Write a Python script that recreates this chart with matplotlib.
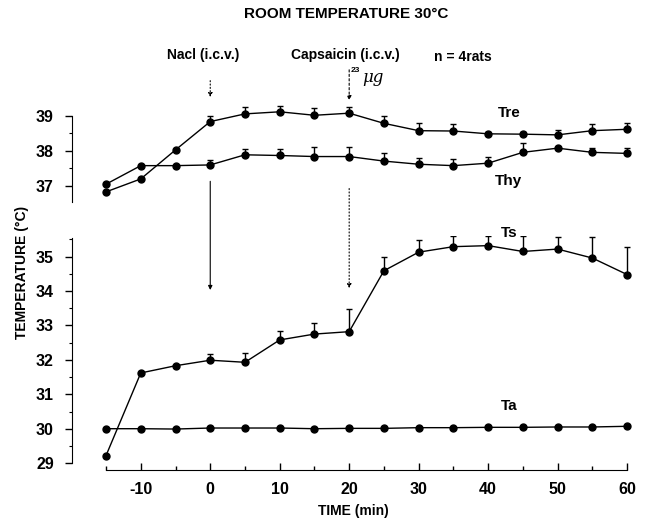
import matplotlib.pyplot as plt
from matplotlib.ticker import MultipleLocator

plt.rcParams['font.family'] = ['Liberation Sans', 'DejaVu Sans']
plt.rcParams['font.weight'] = 'bold'

time_min = [-15, -10, -5, 0, 5, 10, 15, 20, 25, 30, 35, 40, 45, 50, 55, 60]

tre = [36.83, 37.20, 38.03, 38.84, 39.06, 39.12, 39.02, 39.08,
       38.79, 38.58, 38.57, 38.49, 38.48, 38.46, 38.58, 38.62]
tre_err = [0, 0, 0, 0.17, 0.19, 0.17, 0.20, 0.19,
           0.22, 0.21, 0.20, 0.05, 0.05, 0.15, 0.19, 0.18]

thy = [37.05, 37.58, 37.58, 37.60, 37.89, 37.87, 37.84, 37.84,
       37.71, 37.62, 37.58, 37.65, 37.96, 38.08, 37.96, 37.93]
thy_err = [0, 0, 0, 0.13, 0.17, 0.18, 0.26, 0.26,
           0.22, 0.17, 0.20, 0.17, 0.27, 0, 0.13, 0.16]

ts = [29.22, 31.62, 31.83, 31.99, 31.93, 32.58, 32.75, 32.82,
      34.59, 35.13, 35.29, 35.32, 35.15, 35.22, 34.96, 34.48]
ts_err = [0, 0, 0, 0.19, 0.27, 0.27, 0.32, 0.66,
          0.41, 0.36, 0.32, 0.29, 0.46, 0.34, 0.60, 0.79]

ta = [30.00, 30.00, 29.99, 30.02, 30.02, 30.02, 30.00, 30.01,
      30.01, 30.03, 30.03, 30.04, 30.04, 30.05, 30.05, 30.07]

x_ticks = [-10, 0, 10, 20, 30, 40, 50, 60]
x_tick_labels = ['-10', '0', '10', '20', '30', '40', '50', '60']

W, H = 647, 518


def fx(px):
    return px / W


def fy(py):
    return 1 - py / H


fig = plt.figure(figsize=(6.47, 5.18), dpi=100)

# axes placed in pixel units of the reference
ax_top = fig.add_axes([fx(72), fy(202), fx(634) - fx(72), fy(103.75) - fy(202)])
ax_low = fig.add_axes([fx(72), fy(470), fx(634) - fx(72), fy(236) - fy(470)])

style = dict(color='black', marker='o', markersize=5, linewidth=1,
             ecolor='black', elinewidth=1, capsize=2.3, capthick=1)


def one_sided(err):
    return [[0] * len(err), err]


ax_top.errorbar(time_min, tre, yerr=one_sided(tre_err), **style)
ax_top.errorbar(time_min, thy, yerr=one_sided(thy_err), **style)
ax_low.errorbar(time_min, ts, yerr=one_sided(ts_err), **style)
ax_low.plot(time_min, ta, color='black', marker='o', markersize=5, linewidth=1)

for ax in (ax_top, ax_low):
    ax.set_xlim(-19.9, 61)
    ax.spines['top'].set_visible(False)
    ax.spines['right'].set_visible(False)
    ax.yaxis.set_major_locator(MultipleLocator(1))
    ax.yaxis.set_minor_locator(MultipleLocator(0.5))
    ax.tick_params(axis='y', which='major', length=5, width=1, labelsize=11.5, pad=8)
    ax.tick_params(axis='y', which='minor', length=2.5, width=0.8)
    for lab in ax.get_yticklabels():
        lab.set_fontweight('bold')

ax_top.set_ylim(36.54, 39.35)
ax_top.spines['left'].set_bounds(36.54, 39)
ax_top.spines['bottom'].set_visible(False)
ax_top.set_xticks([])

ax_low.set_ylim(28.8, 35.6)
ax_low.spines['left'].set_bounds(29, 35.55)
ax_low.spines['bottom'].set_bounds(-15, 60)
ax_low.xaxis.set_minor_locator(MultipleLocator(5))
ax_low.tick_params(axis='x', which='major', direction='in', length=5, width=1,
                   labelsize=11.5, pad=9)
ax_low.tick_params(axis='x', which='minor', direction='in', length=3, width=1)
ax_low.set_xticks(x_ticks)
ax_low.set_xticklabels(x_tick_labels, fontweight='bold')
ax_low.set_xlabel('TIME (min)', fontsize=10, fontweight='bold', labelpad=5)

# series labels
ax_top.text(43, 39.08, 'Tre', fontsize=11, fontweight='bold', ha='center', va='center')
ax_top.text(43, 37.15, 'Thy', fontsize=11, fontweight='bold', ha='center', va='center')
ax_low.text(43, 35.7, 'Ts', fontsize=11, fontweight='bold', ha='center', va='center')
ax_low.text(43, 30.67, 'Ta', fontsize=11, fontweight='bold', ha='center', va='center')

# injection arrows (long ones cross between the two panels)
ax_low.annotate('', xy=(0, 33.95), xytext=(0, 37.27), annotation_clip=False,
                arrowprops=dict(arrowstyle='-|>', color='black', lw=0.8,
                                mutation_scale=6))
ax_low.annotate('', xy=(20, 34.0), xytext=(20, 37.06), annotation_clip=False,
                arrowprops=dict(arrowstyle='-|>', color='black', lw=0.8,
                                linestyle=(0, (1, 2)), mutation_scale=6))
ax_top.annotate('', xy=(0, 39.46), xytext=(0, 40.09), annotation_clip=False,
                arrowprops=dict(arrowstyle='-|>', color='black', lw=0.8,
                                linestyle=(0, (1, 2)), mutation_scale=6))
ax_top.annotate('', xy=(20, 39.37), xytext=(20, 40.4), annotation_clip=False,
                arrowprops=dict(arrowstyle='-|>', color='black', lw=0.8,
                                linestyle=(0, (2, 2)), mutation_scale=6))

fig.text(fx(346), fy(14), 'ROOM TEMPERATURE 30\u00b0C', fontsize=11,
         fontweight='bold', ha='center', va='center')
fig.text(fx(203), fy(55), 'Nacl (i.c.v.)', fontsize=10, fontweight='bold',
         ha='center', va='center')
fig.text(fx(345), fy(55), 'Capsaicin (i.c.v.)', fontsize=10, fontweight='bold',
         ha='center', va='center')
fig.text(fx(463), fy(57), 'n = 4rats', fontsize=10, fontweight='bold',
         ha='center', va='center')
fig.text(fx(351), fy(70), '23', fontsize=6, ha='left', va='center')
fig.text(fx(362), fy(77), '\u03bcg', fontsize=12, fontstyle='italic',
         fontweight='normal', family='DejaVu Serif', ha='left', va='center')
fig.text(fx(22), fy(272), 'TEMPERATURE (\u00b0C)', fontsize=10, fontweight='bold',
         rotation=90, ha='center', va='center')

fig.savefig('out.png', dpi=100)
